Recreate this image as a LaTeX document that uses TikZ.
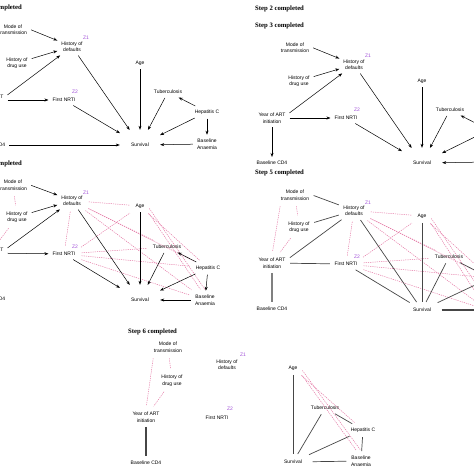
\documentclass[tikz,border=0pt]{standalone}
\usepackage{fontspec}
\setmainfont{Liberation Sans}
\newfontfamily\titlefont{Liberation Serif}
\usetikzlibrary{arrows.meta}
\definecolor{pinkdash}{RGB}{228,120,165}
\definecolor{zcol}{RGB}{160,80,215}
\definecolor{edgegray}{RGB}{70,70,70}
\begin{document}
\begin{tikzpicture}[x=1pt, y=-1pt,
  lbl/.style={font=\fontsize{5}{6.5}\selectfont, align=center, inner sep=3pt},
  surva/.style={lbl, minimum width=38pt, minimum height=28pt},
  survb/.style={lbl, minimum width=36pt, minimum height=13pt},
  zlab/.style={font=\fontsize{5}{6}\selectfont, text=zcol, inner sep=0pt},
  ttl/.style={font=\titlefont\bfseries\fontsize{6.7}{8}\selectfont, inner sep=0pt, anchor=west},
  arr/.style={-{Stealth[length=4pt,width=3pt]}, line width=0.5pt, shorten >=1pt, shorten <=1pt},
  und/.style={draw=edgegray, line width=0.7pt, shorten >=1.5pt, shorten <=1.5pt},
  thk/.style={und, line width=1.3pt},
  dsh/.style={draw=pinkdash, line width=0.5pt, dash pattern=on 1.2pt off 1pt, shorten >=3pt, shorten <=3pt}]
\useasboundingbox (0,0) rectangle (474,474);

% ---------- Step 1 (cropped) ----------
\node[ttl, anchor=east] (t1) at (22,8) {Step 1 completed};
\node[lbl] (amode) at (13,29.5) {Mode of\\transmission};
\node[lbl] (ahod) at (72,46.5) {History of\\defaults};
\node[zlab] (az1) at (86,38) {Z1};
\node[lbl] (adrug) at (17,63) {History of\\drug use};
\node[lbl] (ayear) at (-10,100) {Year of ART\\initiation};
\node[lbl] (afn) at (64,100) {First NRTI};
\node[zlab] (az2) at (75,92) {Z2};
\node[lbl] (aage) at (140,63) {Age};
\node[lbl] (atub) at (168,92) {Tuberculosis};
\node[lbl] (ahepc) at (207,112) {Hepatitis C};
\node[lbl] (aba) at (207,144) {Baseline\\Anaemia};
\node[surva] (asurv) at (140,145) {Survival};
\node[lbl] (acd4) at (-10,145) {Baseline CD4};
\draw[arr] (amode.east) -- (ahod);
\draw[arr] (adrug) -- (ahod);
\draw[arr] (ayear.15) -- (ahod);
\draw[arr] (ayear) -- (afn);
\draw[arr] (ahod) -- (asurv);
\draw[arr] (afn) -- (asurv);
\draw[arr] (aage) -- (asurv);
\draw[arr] (atub) -- (asurv);
\draw[arr] (ahepc) -- (atub);
\draw[arr] (ahepc) -- (asurv);
\draw[arr] (ahepc) -- (aba);
\draw[arr] (aba) -- (asurv);
\draw[arr] (acd4) -- (asurv);

% ---------- Step 2 / Step 3 ----------
\node[ttl] (t2) at (255,9) {Step 2 completed};
\node[ttl] (t3) at (255,26) {Step 3 completed};
\node[lbl] (cmode) at (295,47.5) {Mode of\\transmission};
\node[lbl] (chod) at (354,64.5) {History of\\defaults};
\node[zlab] (cz1) at (368,56) {Z1};
\node[lbl] (cdrug) at (299,81) {History of\\drug use};
\node[lbl] (cyear) at (272,118) {Year of ART\\initiation};
\node[lbl] (cfn) at (346,118) {First NRTI};
\node[zlab] (cz2) at (357,110) {Z2};
\node[lbl] (cage) at (422,81) {Age};
\node[lbl] (ctub) at (450,110) {Tuberculosis};
\coordinate (chepc) at (489,130);
\coordinate (cba) at (489,162);
\node[surva] (csurv) at (422,163) {Survival};
\node[lbl] (ccd4) at (272,163) {Baseline CD4};
\draw[arr] (cmode.east) -- (chod);
\draw[arr] (cdrug) -- (chod);
\draw[arr] (cyear.15) -- (chod);
\draw[arr] (cyear) -- (cfn);
\draw[arr] (cyear) -- (ccd4);
\draw[arr] (chod) -- (csurv);
\draw[arr] (cfn) -- (csurv);
\draw[arr] (cage) -- (csurv);
\draw[arr] (ctub) -- (csurv);
\draw[arr] (chepc) -- (ctub);
\draw[arr] (chepc) -- (csurv);
\draw[arr] (cba) -- (csurv);

% ---------- Step 4 (cropped) ----------
\node[ttl, anchor=east] (t4) at (22,164) {Step 4 completed};
\node[lbl] (dmode) at (13,185) {Mode of\\transmission};
\node[lbl] (dhod) at (72,200.5) {History of\\defaults};
\node[zlab] (dz1) at (86,193) {Z1};
\node[lbl] (ddrug) at (17,217) {History of\\drug use};
\node[lbl] (dyear) at (-10,253) {Year of ART\\initiation};
\node[lbl] (dfn) at (64,254) {First NRTI};
\node[zlab] (dz2) at (75,247) {Z2};
\node[lbl] (dage) at (140,206) {Age};
\node[lbl] (dtub) at (167,247) {Tuberculosis};
\node[lbl] (dhepc) at (208,268) {Hepatitis C};
\node[lbl] (dba) at (205,300) {Baseline\\Anaemia};
\node[surva] (dsurv) at (140,300) {Survival};
\node[lbl] (dcd4) at (-10,299) {Baseline CD4};
\draw[dsh] (dmode.210) -- (dyear.north);
\draw[dsh] (dmode) -- (ddrug);
\draw[dsh] (ddrug) -- (dyear);
\draw[dsh] (dhod) -- (dfn);
\draw[dsh] (dhod) -- (dage);
\draw[dsh] (dhod) -- (dtub);
\draw[dsh] (dhod) -- (dhepc);
\draw[dsh] (dhod) -- (dba);
\draw[dsh] (dfn.north east) -- (dage);
\draw[dsh] (dfn) -- (dtub);
\draw[dsh] (dfn) -- (dhepc);
\draw[dsh] (dfn) -- (dba);
\draw[dsh] (dage) -- (dhepc);
\draw[dsh] (dage.south east) -- (dba.110);
\draw[dsh] (dage.east) -- (dba.80);
\draw[arr] (dmode.east) -- (dhod);
\draw[arr] (ddrug) -- (dhod);
\draw[arr] (dyear.15) -- (dhod);
\draw[arr] (dyear) -- (dfn);
\draw[arr] (dhod) -- (dsurv);
\draw[arr] (dfn) -- (dsurv);
\draw[arr] (dage) -- (dsurv);
\draw[arr] (dtub) -- (dsurv);
\draw[arr] (dhepc) -- (dtub);
\draw[arr] (dhepc) -- (dsurv);
\draw[arr] (dhepc) -- (dba);
\draw[arr] (dba) -- (dsurv);

% ---------- Step 5 ----------
\node[ttl] (t5) at (255,173) {Step 5 completed};
\node[lbl] (emode) at (295,195) {Mode of\\transmission};
\node[lbl] (ehod) at (354,210.5) {History of\\defaults};
\node[zlab] (ez1) at (368,203) {Z1};
\node[lbl] (edrug) at (299,227) {History of\\drug use};
\node[lbl] (eyear) at (272,263) {Year of ART\\initiation};
\node[lbl] (efn) at (346,264) {First NRTI};
\node[zlab] (ez2) at (357,257) {Z2};
\node[lbl] (eage) at (422,216) {Age};
\node[lbl] (etub) at (449,257) {Tuberculosis};
\coordinate (ehepc) at (490,278);
\coordinate (eba) at (487,310);
\coordinate (eba2) at (492,307);
\node[survb] (esurv) at (422,310) {Survival};
\node[lbl] (ecd4) at (272,309) {Baseline CD4};
\draw[dsh] (emode.210) -- (eyear.north);
\draw[dsh] (emode) -- (edrug);
\draw[dsh] (edrug) -- (eyear);
\draw[dsh] (ehod) -- (efn);
\draw[dsh] (ehod) -- (eage);
\draw[dsh] (ehod) -- (etub);
\draw[dsh] (ehod) -- (ehepc);
\draw[dsh] (ehod) -- (eba);
\draw[dsh] (efn.north east) -- (eage);
\draw[dsh] (efn) -- (etub);
\draw[dsh] (efn) -- (ehepc);
\draw[dsh] (efn) -- (eba);
\draw[dsh] (eage) -- (ehepc);
\draw[dsh] (eage.south east) -- (eba);
\draw[dsh] (eage.east) -- (eba2);
\draw[und] (emode.east) -- (ehod);
\draw[und] (edrug) -- (ehod);
\draw[und] (eyear.15) -- (ehod);
\draw[und] (eyear) -- (efn);
\draw[thk, draw=gray] (eyear) -- (ecd4);
\draw[und] (ehod) -- (esurv);
\draw[und] (efn) -- (esurv);
\draw[und] (eage) -- (esurv);
\draw[und] (etub) -- (esurv);
\draw[und] (etub) -- (ehepc);
\draw[und] (ehepc) -- (esurv);
\draw[thk] (esurv) -- (eba);

% ---------- Step 6 ----------
\node[ttl] (t6) at (128,332) {Step 6 completed};
\node[lbl] (fmode) at (168,347) {Mode of\\transmission};
\node[lbl] (fdrug) at (172,380.5) {History of\\drug use};
\node[lbl] (fyear) at (146,417) {Year of ART\\initiation};
\node[lbl] (fcd4) at (146,463) {Baseline CD4};
\node[lbl] (fhod) at (227,364.5) {History of\\defaults};
\node[zlab] (fz1) at (243,355) {Z1};
\node[lbl] (ffn) at (217,418) {First NRTI};
\node[zlab] (fz2) at (230,409) {Z2};
\node[lbl] (fage) at (293,368) {Age};
\node[lbl] (ftub) at (325,408) {Tuberculosis};
\node[lbl] (fhepc) at (363,430) {Hepatitis C};
\node[lbl] (fba) at (361,461) {Baseline\\Anaemia};
\node[survb] (fsurv) at (293,462) {Survival};
\draw[dsh] (fmode.210) -- (fyear.north);
\draw[dsh] (fmode) -- (fdrug);
\draw[dsh] (fdrug) -- (fyear);
\draw[dsh] (fage) -- (fhepc);
\draw[dsh] (fage.south east) -- (fba.110);
\draw[dsh] (fage.east) -- (fba.80);
\draw[thk] (fyear) -- (fcd4);
\draw[und] (fage) -- (fsurv);
\draw[und] (ftub) -- (fsurv);
\draw[und] (ftub) -- (fhepc);
\draw[und] (fhepc) -- (fsurv);
\draw[und] (fhepc) -- (fba);
\draw[und] (fsurv) -- (fba);
\end{tikzpicture}
\end{document}
